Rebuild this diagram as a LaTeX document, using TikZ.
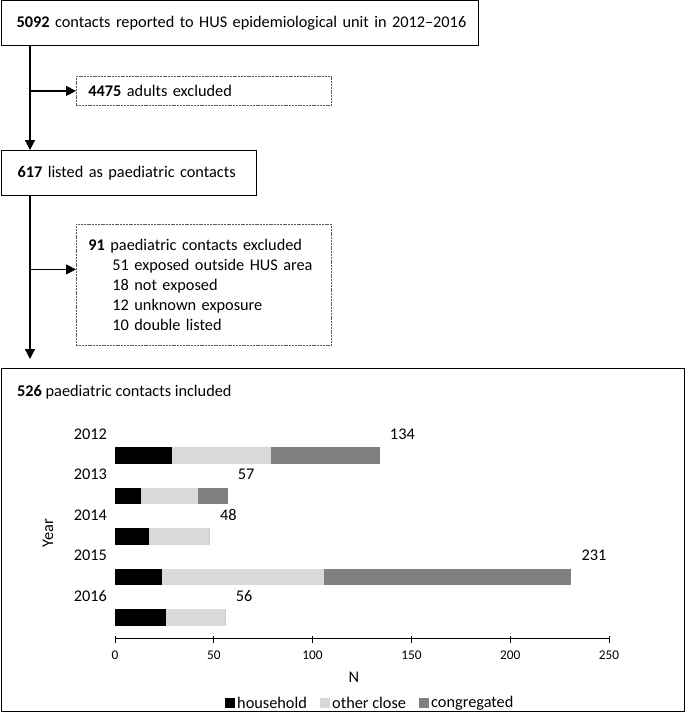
\documentclass[tikz,border=0pt]{standalone}
\usepackage{fontspec}
\setmainfont{Carlito}
\usepackage{xcolor}
\usetikzlibrary{arrows.meta,positioning}

\definecolor{hhcol}{RGB}{0,0,0}
\definecolor{occol}{RGB}{217,217,217}
\definecolor{cgcol}{RGB}{128,128,128}

\begin{document}
\begin{tikzpicture}[x=1pt,y=-1pt,>={Triangle[width=10pt,length=10pt]},
  every node/.style={font=\fontsize{16.3}{20}\selectfont,inner sep=0pt},
  flowbox/.style={draw,line width=1.1pt,anchor=north west,align=left,inner xsep=15pt,minimum height=45pt},
  dropbox/.style={draw=gray!70!black,line width=0.9pt,dash pattern=on 2pt off 0.8pt,anchor=north west,align=left,inner xsep=12pt},
  arr/.style={->,line width=1.3pt},
  ticklabel/.style={font=\fontsize{13.3}{16}\selectfont}]
  \useasboundingbox (0,0) rectangle (685,712);
  % flow part
  \node[flowbox,text width=447pt] (rpt) at (1,0) {\mbox{\textbf{5092} contacts reported to HUS epidemiological unit in 2012--2016}};
  \node[dropbox,text width=231pt,minimum height=29pt] (adl) at (76,76) {\textbf{4475} adults excluded};
  \node[flowbox,text width=223pt,inner xsep=16pt] (lst) at (1,150) {\mbox{\textbf{617} listed as paediatric contacts}};
  \node[dropbox,text width=231pt,minimum height=121pt] (exc) at (76,224) {\textbf{91} paediatric contacts excluded\\
    \hspace*{24pt}51 exposed outside HUS area\\
    \hspace*{24pt}18 not exposed\\
    \hspace*{24pt}12 unknown exposure\\
    \hspace*{24pt}10 double listed};
  \node[draw,line width=1.3pt,anchor=north west,minimum width=683pt,minimum height=343pt] (incl) at (1,368) {};
  \node[anchor=west] (inclt) at (17,392) {\textbf{526} paediatric contacts included};

  \coordinate (spine) at ([xshift=29pt]rpt.south west);
  \coordinate (excin) at ([yshift=15.5pt]exc.west);
  \draw[arr] (spine) -- (spine |- lst.north);
  \draw[arr] (spine |- adl.west) -- (adl.west);
  \draw[arr,shorten >=9pt] (spine |- lst.south) -- (spine |- incl.north);
  \draw[arr] (spine |- excin) -- (excin);

  % bar chart
  \draw[line width=0.9pt] (115,638) -- (609,638);
  \foreach \v in {0,50,...,250} {
    \draw[line width=0.9pt] ({115+1.976*\v},636) -- ({115+1.976*\v},643);
    \node[ticklabel] (t\v) at ({115+1.976*\v},655) {\v};
  }
  \foreach \yr/\hh/\oc/\cg/\tot [count=\i from 0] in
    {2012/29/50/55/134,2013/13/29/15/57,2014/17/31/0/48,2015/24/82/125/231,2016/26/30/0/56} {
    \pgfmathsetmacro\ytop{447+40.5*\i}
    \pgfmathsetmacro\xa{115+1.976*\hh}
    \pgfmathsetmacro\xb{115+1.976*(\hh+\oc)}
    \pgfmathsetmacro\xc{115+1.976*\tot}
    \fill[hhcol] (115,\ytop) rectangle (\xa,\ytop+16.5);
    \fill[occol] (\xa,\ytop) rectangle (\xb,\ytop+16.5);
    \fill[cgcol] (\xb,\ytop) rectangle (\xc,\ytop+16.5);
    \node[anchor=east] (y\yr) at (107,\ytop-13) {\yr};
    \node[anchor=west] (n\yr) at (\xc+10,\ytop-13) {\tot};
  }
  \node[rotate=90] (yax) at (48,533) {Year};
  \node (nax) at (354,677) {N};

  % legend
  \fill[hhcol] (225,698) rectangle (235,708);
  \node[anchor=west] (lghh) at (237,703) {household};
  \fill[occol] (320,698) rectangle (330,708);
  \node[anchor=west] (lgoc) at (332,703) {other close};
  \fill[cgcol] (419,698) rectangle (429,708);
  \node[anchor=west] (lgcg) at (431,703) {congregated};
\end{tikzpicture}
\end{document}
